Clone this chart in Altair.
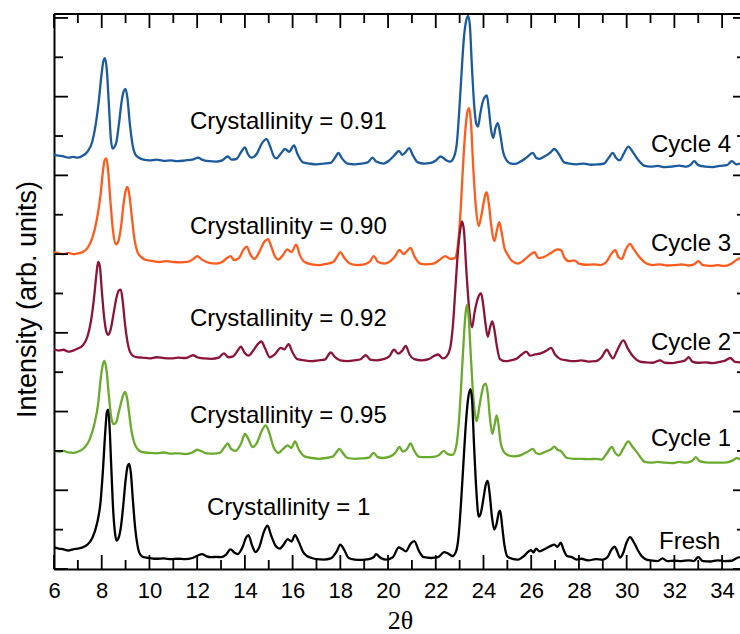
import altair as alt
import pandas as pd

# 2-theta / intensity pairs for each diffraction pattern (stacked, arbitrary units)
FRESH = [
    (6.0, 0.55), (6.2, 0.52), (6.4, 0.50), (6.6, 0.47), (6.8, 0.50), (7.0, 0.52),
    (7.2, 0.55), (7.4, 0.62), (7.6, 0.78), (7.8, 1.15), (7.95, 1.7), (8.05, 2.5),
    (8.15, 3.5), (8.22, 4.0), (8.27, 4.05), (8.33, 3.6), (8.4, 2.6), (8.48, 1.5),
    (8.56, 0.9), (8.62, 0.72), (8.7, 0.78), (8.8, 1.05), (8.9, 1.6), (9.0, 2.25),
    (9.08, 2.6), (9.15, 2.67), (9.22, 2.45), (9.3, 1.8), (9.4, 1.05), (9.5, 0.6),
    (9.6, 0.38), (9.75, 0.3), (10.0, 0.28), (10.3, 0.26), (10.6, 0.27), (10.9, 0.25),
    (11.2, 0.26), (11.5, 0.25), (11.8, 0.28), (12.05, 0.35), (12.2, 0.38), (12.4, 0.32),
    (12.6, 0.3), (12.8, 0.31), (13.0, 0.3), (13.2, 0.36), (13.4, 0.5), (13.55, 0.42),
    (13.7, 0.38), (13.9, 0.55), (14.05, 0.8), (14.15, 0.86), (14.3, 0.6), (14.45, 0.43),
    (14.6, 0.55), (14.8, 0.95), (14.95, 1.1), (15.1, 0.85), (15.3, 0.58), (15.46, 0.52),
    (15.6, 0.6), (15.8, 0.76), (15.95, 0.7), (16.1, 0.86), (16.25, 0.7), (16.45, 0.42),
    (16.6, 0.33), (16.8, 0.28), (17.0, 0.25), (17.3, 0.24), (17.6, 0.27), (17.85, 0.45),
    (18.0, 0.62), (18.15, 0.5), (18.35, 0.28), (18.6, 0.24), (18.9, 0.23), (19.2, 0.25),
    (19.4, 0.3), (19.5, 0.38), (19.65, 0.3), (19.9, 0.24), (20.2, 0.3), (20.45, 0.55),
    (20.6, 0.5), (20.75, 0.45), (20.95, 0.65), (21.1, 0.71), (21.3, 0.45), (21.5, 0.3),
    (21.8, 0.28), (22.1, 0.3), (22.35, 0.43), (22.5, 0.4), (22.7, 0.33), (22.85, 0.45),
    (22.95, 0.8), (23.05, 1.6), (23.15, 2.6), (23.25, 3.6), (23.35, 4.3), (23.45, 4.57),
    (23.52, 4.3), (23.6, 3.2), (23.7, 2.0), (23.8, 1.33), (23.9, 1.45), (24.0, 1.8),
    (24.1, 2.15), (24.18, 2.24), (24.26, 1.9), (24.35, 1.35), (24.45, 1.0), (24.55, 1.15),
    (24.65, 1.45), (24.7, 1.48), (24.78, 1.1), (24.88, 0.6), (25.0, 0.32), (25.2, 0.26),
    (25.45, 0.24), (25.7, 0.33), (25.9, 0.45), (26.0, 0.48), (26.1, 0.42), (26.2, 0.52),
    (26.35, 0.45), (26.55, 0.5), (26.8, 0.58), (26.97, 0.62), (27.1, 0.56), (27.24, 0.67),
    (27.35, 0.5), (27.5, 0.33), (27.7, 0.3), (27.9, 0.24), (28.1, 0.26), (28.4, 0.22),
    (28.7, 0.25), (29.0, 0.24), (29.2, 0.3), (29.35, 0.48), (29.5, 0.57), (29.6, 0.45),
    (29.72, 0.29), (29.85, 0.4), (30.0, 0.68), (30.14, 0.81), (30.3, 0.68), (30.45, 0.5),
    (30.6, 0.35), (30.83, 0.24), (31.0, 0.22), (31.3, 0.2), (31.5, 0.27), (31.7, 0.2),
    (32.0, 0.21), (32.3, 0.2), (32.6, 0.22), (32.8, 0.2), (33.0, 0.3), (33.2, 0.2),
    (33.5, 0.19), (33.8, 0.22), (34.1, 0.2), (34.4, 0.21), (34.62, 0.28), (34.75, 0.3),
]

CYCLE_1 = [
    (6.0, 3.0), (6.2, 2.98), (6.4, 3.0), (6.6, 2.96), (6.8, 2.95), (7.0, 2.98),
    (7.15, 3.02), (7.3, 3.1), (7.5, 3.3), (7.7, 3.7), (7.85, 4.2), (7.95, 4.8),
    (8.05, 5.2), (8.12, 5.29), (8.2, 5.05), (8.3, 4.4), (8.4, 3.85), (8.5, 3.68),
    (8.6, 3.72), (8.7, 3.95), (8.8, 4.2), (8.9, 4.42), (8.98, 4.5), (9.06, 4.35),
    (9.15, 3.95), (9.25, 3.5), (9.38, 3.18), (9.5, 3.05), (9.7, 2.97), (10.0, 2.95),
    (10.3, 2.94), (10.6, 2.96), (10.9, 2.93), (11.2, 2.94), (11.5, 2.92), (11.8, 2.96),
    (12.0, 3.03), (12.15, 3.0), (12.4, 2.94), (12.7, 2.93), (12.95, 2.95), (13.15, 3.1),
    (13.28, 3.19), (13.42, 3.05), (13.6, 3.0), (13.85, 3.2), (14.0, 3.43), (14.15, 3.3),
    (14.32, 3.1), (14.5, 3.2), (14.7, 3.5), (14.87, 3.65), (15.0, 3.5), (15.2, 3.1),
    (15.4, 2.95), (15.6, 3.05), (15.8, 3.14), (15.95, 3.08), (16.1, 3.24), (16.25, 3.05),
    (16.5, 2.86), (16.8, 2.82), (17.1, 2.8), (17.4, 2.82), (17.7, 2.86), (17.85, 2.98),
    (17.96, 3.05), (18.1, 2.95), (18.3, 2.82), (18.6, 2.8), (18.9, 2.81), (19.2, 2.83),
    (19.4, 2.95), (19.55, 2.85), (19.8, 2.82), (20.1, 2.86), (20.3, 2.95), (20.48, 3.1),
    (20.62, 2.98), (20.8, 3.05), (20.94, 3.19), (21.1, 3.0), (21.3, 2.85), (21.6, 2.84),
    (21.9, 2.85), (22.15, 2.9), (22.33, 3.0), (22.5, 2.92), (22.7, 2.9), (22.85, 3.1),
    (22.95, 3.6), (23.05, 4.5), (23.15, 5.6), (23.25, 6.5), (23.31, 6.71), (23.38, 6.4),
    (23.47, 5.4), (23.57, 4.4), (23.65, 3.9), (23.72, 3.76), (23.82, 4.1), (23.92, 4.45),
    (24.02, 4.68), (24.1, 4.71), (24.18, 4.45), (24.26, 3.9), (24.37, 3.43), (24.46, 3.65),
    (24.55, 3.9), (24.62, 3.7), (24.72, 3.2), (24.85, 2.98), (25.0, 2.9), (25.3, 2.86),
    (25.6, 2.9), (25.85, 2.98), (26.07, 3.05), (26.2, 2.95), (26.35, 2.92), (26.6, 2.98),
    (26.85, 3.05), (26.97, 3.11), (27.1, 3.03), (27.24, 3.0), (27.5, 2.82), (27.8, 2.8),
    (28.1, 2.8), (28.4, 2.79), (28.7, 2.8), (28.95, 2.78), (29.15, 2.92), (29.38, 3.1),
    (29.52, 2.95), (29.66, 2.88), (29.85, 3.05), (30.07, 3.24), (30.25, 3.1), (30.45, 2.95),
    (30.76, 2.72), (31.0, 2.7), (31.3, 2.72), (31.6, 2.7), (31.9, 2.69), (32.2, 2.72),
    (32.5, 2.7), (32.75, 2.75), (32.9, 2.84), (33.05, 2.74), (33.3, 2.71), (33.6, 2.7),
    (33.9, 2.7), (34.2, 2.71), (34.45, 2.76), (34.62, 2.82), (34.75, 2.78),
]

CYCLE_2 = [
    (6.0, 5.58), (6.2, 5.55), (6.4, 5.57), (6.6, 5.52), (6.8, 5.55), (7.0, 5.6),
    (7.2, 5.68), (7.4, 5.9), (7.55, 6.3), (7.68, 6.9), (7.78, 7.5), (7.85, 7.8),
    (7.92, 7.7), (8.0, 7.1), (8.1, 6.4), (8.2, 6.02), (8.28, 5.95), (8.38, 6.1),
    (8.5, 6.5), (8.62, 6.9), (8.72, 7.08), (8.8, 7.1), (8.88, 6.8), (8.98, 6.2),
    (9.1, 5.7), (9.25, 5.45), (9.45, 5.38), (9.7, 5.37), (10.0, 5.35), (10.3, 5.38),
    (10.6, 5.36), (10.9, 5.35), (11.2, 5.37), (11.5, 5.36), (11.83, 5.43), (12.0, 5.38),
    (12.3, 5.35), (12.6, 5.34), (12.9, 5.37), (13.12, 5.48), (13.3, 5.38), (13.5, 5.4),
    (13.7, 5.55), (13.83, 5.65), (13.98, 5.5), (14.15, 5.42), (14.35, 5.55), (14.55, 5.72),
    (14.69, 5.78), (14.85, 5.6), (15.04, 5.38), (15.25, 5.45), (15.5, 5.62), (15.65, 5.58),
    (15.83, 5.71), (16.0, 5.5), (16.2, 5.33), (16.5, 5.3), (16.8, 5.28), (17.1, 5.3),
    (17.35, 5.32), (17.6, 5.5), (17.78, 5.38), (18.0, 5.3), (18.3, 5.28), (18.6, 5.3),
    (18.85, 5.33), (19.07, 5.43), (19.25, 5.32), (19.5, 5.3), (19.8, 5.33), (20.05, 5.4),
    (20.25, 5.57), (20.42, 5.47), (20.6, 5.55), (20.74, 5.67), (20.9, 5.45), (21.1, 5.33),
    (21.4, 5.3), (21.7, 5.33), (21.95, 5.42), (22.1, 5.45), (22.3, 5.35), (22.45, 5.4),
    (22.6, 5.6), (22.72, 6.2), (22.82, 7.1), (22.92, 8.0), (23.02, 8.6), (23.1, 8.83),
    (23.18, 8.6), (23.28, 7.6), (23.4, 6.6), (23.52, 6.14), (23.62, 6.5), (23.75, 6.85),
    (23.84, 6.98), (23.9, 7.0), (23.98, 6.75), (24.08, 6.25), (24.18, 5.9), (24.28, 6.15),
    (24.37, 6.29), (24.45, 6.1), (24.55, 5.7), (24.69, 5.33), (24.9, 5.28), (25.15, 5.3),
    (25.4, 5.35), (25.6, 5.45), (25.8, 5.52), (25.95, 5.42), (26.15, 5.45), (26.4, 5.48),
    (26.65, 5.55), (26.83, 5.62), (27.0, 5.45), (27.24, 5.33), (27.5, 5.3), (27.8, 5.28),
    (28.1, 5.3), (28.4, 5.27), (28.7, 5.28), (28.95, 5.38), (29.17, 5.57), (29.3, 5.45),
    (29.42, 5.35), (29.6, 5.55), (29.86, 5.81), (30.05, 5.6), (30.3, 5.38), (30.55, 5.27),
    (30.8, 5.25), (31.1, 5.24), (31.4, 5.3), (31.6, 5.24), (31.9, 5.23), (32.2, 5.26),
    (32.45, 5.3), (32.6, 5.38), (32.75, 5.27), (33.0, 5.24), (33.3, 5.25), (33.6, 5.23),
    (33.9, 5.26), (34.15, 5.3), (34.34, 5.36), (34.55, 5.26), (34.75, 5.25),
]

CYCLE_3 = [
    (6.0, 8.05), (6.2, 8.02), (6.4, 8.0), (6.6, 8.03), (6.8, 8.0), (7.0, 8.02),
    (7.2, 8.05), (7.4, 8.15), (7.6, 8.4), (7.8, 8.9), (7.95, 9.5), (8.05, 10.1),
    (8.13, 10.4), (8.2, 10.43), (8.27, 10.1), (8.37, 9.3), (8.47, 8.6), (8.58, 8.25),
    (8.68, 8.3), (8.8, 8.65), (8.92, 9.3), (9.0, 9.6), (9.08, 9.71), (9.16, 9.5),
    (9.26, 8.95), (9.38, 8.35), (9.5, 8.05), (9.65, 7.93), (9.85, 7.85), (10.1, 7.83),
    (10.4, 7.8), (10.7, 7.82), (11.0, 7.8), (11.3, 7.79), (11.6, 7.8), (11.85, 7.88),
    (12.0, 7.95), (12.2, 7.86), (12.5, 7.78), (12.8, 7.76), (13.05, 7.8), (13.25, 7.9),
    (13.4, 7.95), (13.55, 7.85), (13.75, 7.9), (13.95, 8.12), (14.08, 8.19), (14.22, 8.0),
    (14.4, 7.88), (14.6, 8.05), (14.8, 8.3), (14.97, 8.38), (15.1, 8.2), (15.25, 7.95),
    (15.4, 7.86), (15.6, 7.98), (15.78, 8.12), (15.95, 8.05), (16.15, 8.24), (16.3, 7.98),
    (16.5, 7.8), (16.8, 7.74), (17.1, 7.72), (17.4, 7.75), (17.7, 7.8), (17.88, 7.95),
    (18.0, 8.05), (18.15, 7.92), (18.4, 7.76), (18.7, 7.72), (19.0, 7.74), (19.25, 7.82),
    (19.4, 7.95), (19.58, 7.8), (19.85, 7.76), (20.1, 7.82), (20.3, 7.95), (20.48, 8.11),
    (20.65, 8.0), (20.8, 8.08), (20.94, 8.16), (21.1, 7.95), (21.35, 7.76), (21.6, 7.74),
    (21.9, 7.76), (22.15, 7.85), (22.4, 7.95), (22.6, 7.88), (22.8, 7.9), (22.92, 8.2),
    (23.02, 8.9), (23.12, 10.0), (23.22, 11.0), (23.32, 11.6), (23.4, 11.71), (23.48, 11.3),
    (23.57, 10.2), (23.68, 9.2), (23.8, 8.71), (23.9, 8.95), (24.02, 9.35), (24.1, 9.55),
    (24.14, 9.57), (24.22, 9.3), (24.32, 8.75), (24.46, 8.33), (24.56, 8.6), (24.66, 8.81),
    (24.76, 8.55), (24.88, 8.15), (25.0, 8.0), (25.2, 7.82), (25.45, 7.76), (25.7, 7.85),
    (25.95, 7.98), (26.14, 8.05), (26.3, 7.9), (26.5, 7.92), (26.75, 8.0), (26.95, 8.08),
    (27.1, 8.12), (27.25, 8.1), (27.4, 7.9), (27.59, 7.82), (27.8, 7.84), (28.0, 7.76),
    (28.3, 7.73), (28.6, 7.74), (28.9, 7.72), (29.15, 7.8), (29.35, 8.0), (29.52, 8.1),
    (29.66, 7.92), (29.8, 7.88), (29.95, 8.1), (30.14, 8.26), (30.3, 8.12), (30.5, 7.95),
    (30.83, 7.76), (31.1, 7.72), (31.4, 7.74), (31.7, 7.71), (32.0, 7.72), (32.3, 7.74),
    (32.6, 7.71), (32.85, 7.75), (33.0, 7.82), (33.2, 7.72), (33.5, 7.7), (33.8, 7.72),
    (34.1, 7.7), (34.4, 7.76), (34.6, 7.85), (34.75, 7.9),
]

CYCLE_4 = [
    (6.0, 10.52), (6.2, 10.5), (6.4, 10.48), (6.6, 10.45), (6.8, 10.47), (7.0, 10.45),
    (7.2, 10.5), (7.4, 10.6), (7.6, 10.85), (7.75, 11.3), (7.88, 11.9), (7.98, 12.5),
    (8.07, 12.9), (8.14, 12.98), (8.21, 12.7), (8.3, 11.8), (8.38, 10.95), (8.45, 10.68),
    (8.53, 10.72), (8.62, 10.86), (8.72, 11.3), (8.84, 11.9), (8.93, 12.15), (9.0, 12.2),
    (9.08, 11.95), (9.18, 11.3), (9.3, 10.75), (9.42, 10.52), (9.56, 10.45), (9.75, 10.4),
    (10.0, 10.38), (10.3, 10.4), (10.6, 10.37), (10.9, 10.38), (11.2, 10.36), (11.5, 10.38),
    (11.8, 10.4), (12.04, 10.45), (12.2, 10.4), (12.5, 10.36), (12.8, 10.35), (13.05, 10.38),
    (13.28, 10.48), (13.45, 10.4), (13.65, 10.42), (13.85, 10.6), (14.0, 10.71), (14.12, 10.55),
    (14.28, 10.45), (14.5, 10.55), (14.7, 10.8), (14.91, 10.92), (15.05, 10.75), (15.2, 10.5),
    (15.32, 10.43), (15.5, 10.55), (15.69, 10.67), (15.85, 10.6), (16.06, 10.76), (16.2, 10.55),
    (16.43, 10.33), (16.7, 10.3), (17.0, 10.28), (17.3, 10.3), (17.6, 10.32), (17.78, 10.45),
    (17.92, 10.57), (18.05, 10.45), (18.3, 10.3), (18.6, 10.28), (18.9, 10.3), (19.15, 10.33),
    (19.35, 10.45), (19.5, 10.35), (19.8, 10.3), (20.05, 10.38), (20.25, 10.5), (20.46, 10.62),
    (20.6, 10.52), (20.75, 10.6), (20.88, 10.69), (21.05, 10.5), (21.25, 10.33), (21.5, 10.3),
    (21.8, 10.32), (22.0, 10.38), (22.2, 10.48), (22.4, 10.4), (22.6, 10.35), (22.75, 10.45),
    (22.88, 10.8), (22.98, 11.6), (23.08, 12.6), (23.18, 13.5), (23.28, 13.95), (23.36, 14.05),
    (23.43, 13.8), (23.52, 12.7), (23.62, 11.7), (23.7, 11.3), (23.77, 11.24), (23.86, 11.55),
    (23.96, 11.85), (24.06, 12.0), (24.14, 12.03), (24.22, 11.7), (24.32, 11.15), (24.41, 10.95),
    (24.5, 11.2), (24.6, 11.33), (24.7, 11.05), (24.82, 10.6), (24.97, 10.38), (25.15, 10.3),
    (25.31, 10.29), (25.55, 10.35), (25.8, 10.45), (26.07, 10.57), (26.2, 10.45), (26.35, 10.42),
    (26.55, 10.48), (26.8, 10.58), (26.97, 10.67), (27.15, 10.55), (27.38, 10.33), (27.6, 10.3),
    (27.9, 10.28), (28.2, 10.3), (28.5, 10.27), (28.8, 10.28), (29.05, 10.3), (29.25, 10.45),
    (29.42, 10.57), (29.55, 10.45), (29.7, 10.38), (29.88, 10.55), (30.07, 10.73), (30.25, 10.6),
    (30.45, 10.42), (30.76, 10.24), (31.0, 10.22), (31.3, 10.24), (31.6, 10.21), (31.9, 10.22),
    (32.2, 10.25), (32.5, 10.22), (32.7, 10.28), (32.83, 10.36), (33.0, 10.26), (33.3, 10.22),
    (33.6, 10.21), (33.9, 10.24), (34.2, 10.26), (34.41, 10.36), (34.6, 10.28), (34.75, 10.3),
]

# Drawing order: later entries are painted on top
SERIES = ["Cycle 4", "Cycle 3", "Cycle 2", "Cycle 1", "Fresh"]
PATTERNS = [CYCLE_4, CYCLE_3, CYCLE_2, CYCLE_1, FRESH]
COLORS = ["#1c5b9b", "#ff5b1c", "#8a1538", "#6aaa2c", "#000000"]

# In-plot annotations, anchored in data coordinates (2-theta, intensity)
NOTE_TEXT = [
    "Crystallinity = 0.91", "Crystallinity = 0.90", "Crystallinity = 0.92",
    "Crystallinity = 0.95", "Crystallinity = 1",
    "Cycle 4", "Cycle 3", "Cycle 2", "Cycle 1", "Fresh",
]
NOTE_T = [11.70, 11.70, 11.70, 11.70, 12.41, 31.02, 31.02, 31.02, 31.02, 31.36]
NOTE_V = [11.18, 8.51, 6.17, 3.71, 1.37, 10.59, 8.08, 5.56, 3.125, 0.51]

# Tick positions (major ticks are longer; odd values are minor)
X_MAJOR = list(range(6, 35, 2))
X_MINOR = list(range(7, 34, 2))
Y_MAJOR = list(range(0, 15, 2))
Y_MINOR = list(range(1, 14, 2))

W, H = 686, 555
FONT = "Liberation Sans"

x_scale = alt.Scale(domain=[6, 34.75], nice=False, zero=False)
y_scale = alt.Scale(domain=[0, 14.1], nice=False, zero=False)

x_axis = alt.Axis(
    values=X_MAJOR, ticks=False, tickSize=0, grid=False,
    domainColor="black", domainWidth=2,
    labelFont=FONT, labelFontSize=22, labelColor="black", labelPadding=11,
    labelFlush=False, labelOverlap=False,
    title="2θ", titleFont="Liberation Serif", titleFontSize=26,
    titleFontWeight="normal", titleColor="black",
    titleX=346, titleY=59, titleAlign="center", titleBaseline="alphabetic",
)
y_axis = alt.Axis(
    labels=False, ticks=False, tickSize=0, grid=False,
    domainColor="black", domainWidth=2,
    title="Intensity (arb. units)", titleFont=FONT, titleFontSize=27,
    titleFontWeight="normal", titleColor="black",
    titleAngle=270, titleX=-19, titleY=285,
    titleAlign="center", titleBaseline="alphabetic",
)

X = alt.X("t:Q", scale=x_scale, axis=x_axis)
Y = alt.Y("v:Q", scale=y_scale, axis=y_axis)

layers = []

# diffraction patterns
for name, pts, col in zip(SERIES, PATTERNS, COLORS):
    df = pd.DataFrame(pts, columns=["t", "v"])
    df["series"] = name
    layers.append(
        alt.Chart(df)
        .mark_line(color=col, strokeWidth=2.3, interpolate="monotone", clip=True)
        .encode(x=X, y=Y)
    )

# inward-facing tick marks on all four sides of the frame
def x_ticks(vals, length):
    d = pd.DataFrame({"t": vals})
    bottom = alt.Chart(d).mark_rule(color="black", strokeWidth=1.8).encode(
        x=X, y=alt.value(H), y2=alt.value(H - length))
    top = alt.Chart(d).mark_rule(color="black", strokeWidth=1.8).encode(
        x=X, y=alt.value(0), y2=alt.value(length))
    return [bottom, top]

def y_ticks(vals, length, right_length):
    d = pd.DataFrame({"v": vals})
    left = alt.Chart(d).mark_rule(color="black", strokeWidth=1.8).encode(
        y=Y, x=alt.value(0), x2=alt.value(length))
    right = alt.Chart(d).mark_rule(color="black", strokeWidth=1.8).encode(
        y=Y, x=alt.value(W), x2=alt.value(W - right_length))
    return [left, right]

layers += x_ticks(X_MAJOR, 14) + x_ticks(X_MINOR, 9)
layers += y_ticks(Y_MAJOR, 14, 7) + y_ticks(Y_MINOR, 9, 3)

# top edge of the frame
layers.append(
    alt.Chart(pd.DataFrame({"t": [6]})).mark_rule(color="black", strokeWidth=2).encode(
        x=alt.value(0), x2=alt.value(W), y=alt.value(0))
)

notes = pd.DataFrame({"t": NOTE_T, "v": NOTE_V, "label": NOTE_TEXT})
layers.append(
    alt.Chart(notes).mark_text(
        align="left", baseline="alphabetic", font=FONT, fontSize=24, color="black"
    ).encode(x=X, y=Y, text="label:N")
)

chart = (
    alt.layer(*layers)
    .properties(
        width=W, height=H, autosize="none",
        padding={"left": 54, "top": 14, "right": 0, "bottom": 65},
        background="white",
    )
    .configure_view(stroke="transparent")
)

chart.save("out.html", embed_options={"renderer": "svg", "actions": False})
